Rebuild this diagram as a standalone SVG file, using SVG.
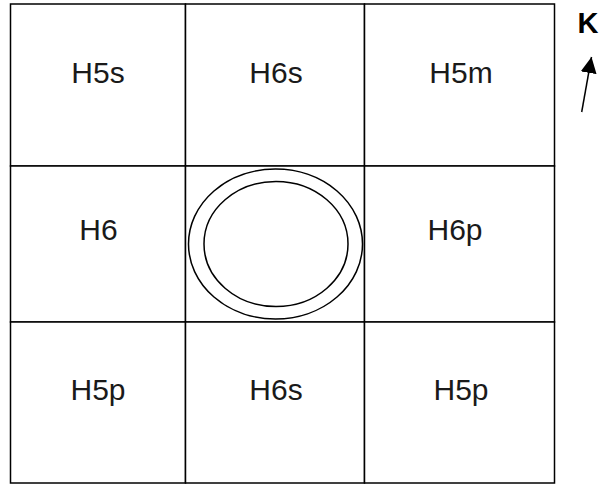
<svg xmlns="http://www.w3.org/2000/svg" width="599" height="486" viewBox="0 0 599 486">
<defs>
<style>
.cell{fill:#fff;stroke:#000;stroke-width:1.5}
.lbl{font-family:"Liberation Sans",Arial,sans-serif;font-size:30px;fill:#1a1a1a;text-anchor:middle}
.ring{fill:none;stroke:#000;stroke-width:1.5}
</style>
<marker id="ah" markerWidth="16" markerHeight="16" refX="16" refY="8" orient="auto" markerUnits="userSpaceOnUse">
<path d="M0,0 L16,8 L0,16 Z" fill="#000"/>
</marker>
</defs>
<rect width="599" height="486" fill="#fff"/>
<g id="n1"><rect class="cell" x="10.5" y="4" width="175" height="162"/><text class="lbl" x="98" y="83">H5s</text></g>
<g id="n2"><rect class="cell" x="185.5" y="4" width="179" height="162"/><text class="lbl" x="276" y="83">H6s</text></g>
<g id="n3"><rect class="cell" x="364.5" y="4" width="190" height="162"/><text class="lbl" x="461" y="83">H5m</text></g>
<g id="n4"><rect class="cell" x="10.5" y="166" width="175" height="156"/><text class="lbl" x="98.5" y="240">H6</text></g>
<g id="n5"><rect class="cell" x="185.5" y="166" width="179" height="156"/>
<ellipse class="ring" cx="275.5" cy="244" rx="87" ry="75"/>
<ellipse class="ring" cx="276" cy="244" rx="72" ry="62.5"/></g>
<g id="n6"><rect class="cell" x="364.5" y="166" width="190" height="156"/><text class="lbl" x="455" y="240">H6p</text></g>
<g id="n7"><rect class="cell" x="10.5" y="322" width="175" height="161"/><text class="lbl" x="98" y="400">H5p</text></g>
<g id="n8"><rect class="cell" x="185.5" y="322" width="179" height="161"/><text class="lbl" x="276" y="400">H6s</text></g>
<g id="n9"><rect class="cell" x="364.5" y="322" width="190" height="161"/><text class="lbl" x="461" y="400">H5p</text></g>
<g id="north">
<text x="588" y="33" style="font-family:'Liberation Sans',Arial,sans-serif;font-size:29px;font-weight:bold;text-anchor:middle">K</text>
</g>
<g id="connectors">
<line x1="581.7" y1="112" x2="591.5" y2="57" stroke="#000" stroke-width="1.5" marker-end="url(#ah)"/>
</g>
</svg>
